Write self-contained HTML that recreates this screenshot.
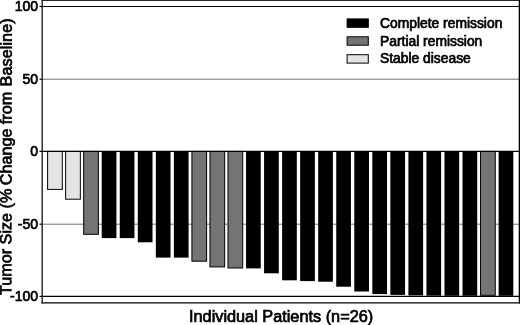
<!DOCTYPE html>
<html><head><meta charset="utf-8"><title>Waterfall plot</title>
<style>
html,body{margin:0;padding:0;background:#fff;}
svg{display:block;font-family:"Liberation Sans",sans-serif;}
text{fill:#000;stroke:#000;stroke-width:0.7px;}
</style></head><body>
<svg width="520" height="325" viewBox="0 0 520 325">
<rect width="520" height="325" fill="#fff"/>
<!-- gridlines -->
<g stroke="#000" fill="none">
<line x1="42" y1="6.5" x2="519" y2="6.5" stroke-width="1.1"/>
<line x1="42" y1="79.2" x2="519" y2="79.2" stroke-width="0.85" stroke="#5a5a5a"/>
<line x1="42" y1="224.2" x2="519" y2="224.2" stroke-width="0.85" stroke="#5a5a5a"/>
<line x1="42" y1="296.4" x2="519" y2="296.4" stroke-width="1.1"/>
</g>
<!-- bars -->
<rect x="47.60" y="151.40" width="14.70" height="38.00" fill="#e4e4e4" stroke="#000" stroke-width="1.0"/>
<rect x="65.64" y="151.40" width="14.70" height="47.80" fill="#e4e4e4" stroke="#000" stroke-width="1.0"/>
<rect x="83.68" y="151.40" width="14.70" height="82.90" fill="#747474" stroke="#000" stroke-width="1.0"/>
<rect x="101.72" y="151.40" width="14.70" height="86.70" fill="#000"/>
<rect x="119.76" y="151.40" width="14.70" height="86.70" fill="#000"/>
<rect x="137.80" y="151.40" width="14.70" height="90.90" fill="#000"/>
<rect x="155.84" y="151.40" width="14.70" height="106.20" fill="#000"/>
<rect x="173.88" y="151.40" width="14.70" height="106.20" fill="#000"/>
<rect x="191.92" y="151.40" width="14.70" height="109.80" fill="#747474" stroke="#000" stroke-width="1.0"/>
<rect x="209.96" y="151.40" width="14.70" height="115.50" fill="#747474" stroke="#000" stroke-width="1.0"/>
<rect x="228.00" y="151.40" width="14.70" height="116.60" fill="#747474" stroke="#000" stroke-width="1.0"/>
<rect x="246.04" y="151.40" width="14.70" height="117.00" fill="#000"/>
<rect x="264.08" y="151.40" width="14.70" height="121.90" fill="#000"/>
<rect x="282.12" y="151.40" width="14.70" height="128.90" fill="#000"/>
<rect x="300.16" y="151.40" width="14.70" height="129.70" fill="#000"/>
<rect x="318.20" y="151.40" width="14.70" height="130.30" fill="#000"/>
<rect x="336.24" y="151.40" width="14.70" height="135.30" fill="#000"/>
<rect x="354.28" y="151.40" width="14.70" height="140.10" fill="#000"/>
<rect x="372.32" y="151.40" width="14.70" height="142.70" fill="#000"/>
<rect x="390.36" y="151.40" width="14.70" height="143.50" fill="#000"/>
<rect x="408.40" y="151.40" width="14.70" height="144.00" fill="#000"/>
<rect x="426.44" y="151.40" width="14.70" height="144.30" fill="#000"/>
<rect x="444.48" y="151.40" width="14.70" height="144.40" fill="#000"/>
<rect x="462.52" y="151.40" width="14.70" height="144.40" fill="#000"/>
<rect x="480.56" y="151.40" width="14.70" height="143.90" fill="#747474" stroke="#000" stroke-width="1.0"/>
<rect x="498.60" y="151.40" width="14.70" height="144.40" fill="#000"/>
<!-- frame -->
<g stroke="#000" fill="none">
<line x1="41.5" y1="0.45" x2="520" y2="0.45" stroke-width="0.9"/>
<line x1="41.5" y1="302.8" x2="520" y2="302.8" stroke-width="1.2"/>
<line x1="42.2" y1="0" x2="42.2" y2="303.4" stroke-width="1.4" stroke="#222"/>
<line x1="519.4" y1="0" x2="519.4" y2="303.4" stroke-width="1.4"/>
<line x1="42" y1="151.4" x2="519" y2="151.4" stroke-width="1.2"/>
<!-- ticks -->
<line x1="39.5" y1="6.5" x2="42" y2="6.5" stroke-width="1.2"/>
<line x1="39.5" y1="79.2" x2="42" y2="79.2" stroke-width="1.2"/>
<line x1="39.5" y1="151.4" x2="42" y2="151.4" stroke-width="1.2"/>
<line x1="39.5" y1="224.2" x2="42" y2="224.2" stroke-width="1.2"/>
<line x1="39.5" y1="296.4" x2="42" y2="296.4" stroke-width="1.2"/>
</g>
<!-- tick labels -->
<g font-size="14" text-anchor="end">
<text x="38" y="11.4">100</text>
<text x="38" y="84.3">50</text>
<text x="38" y="155.5">0</text>
<text x="38" y="228.8">-50</text>
<text x="38" y="300.5">-100</text>
</g>
<!-- axis labels -->
<text font-size="16.15" transform="translate(11.25,294.9) rotate(-89.9)">Tumor Size (% <tspan dx="-0.9">Change</tspan> from <tspan dx="0.9" letter-spacing="0.1">Baseline)</tspan></text>
<text font-size="16.3" x="189" y="321.5">Individual Patients (n=26)</text>
<!-- legend -->
<g stroke="#000" stroke-width="1">
<rect x="347.1" y="18.9" width="21.2" height="8.4" fill="#000"/>
<rect x="347.1" y="36.8" width="21.2" height="8.4" fill="#747474"/>
<rect x="347.1" y="54.7" width="21.2" height="8.4" fill="#e4e4e4"/>
</g>
<g font-size="13.85">
<text x="380" y="28.1">Complete remission</text>
<text x="380" y="45.7">Partial remission</text>
<text x="380" y="63.2">Stable disease</text>
</g>
</svg>
</body></html>
